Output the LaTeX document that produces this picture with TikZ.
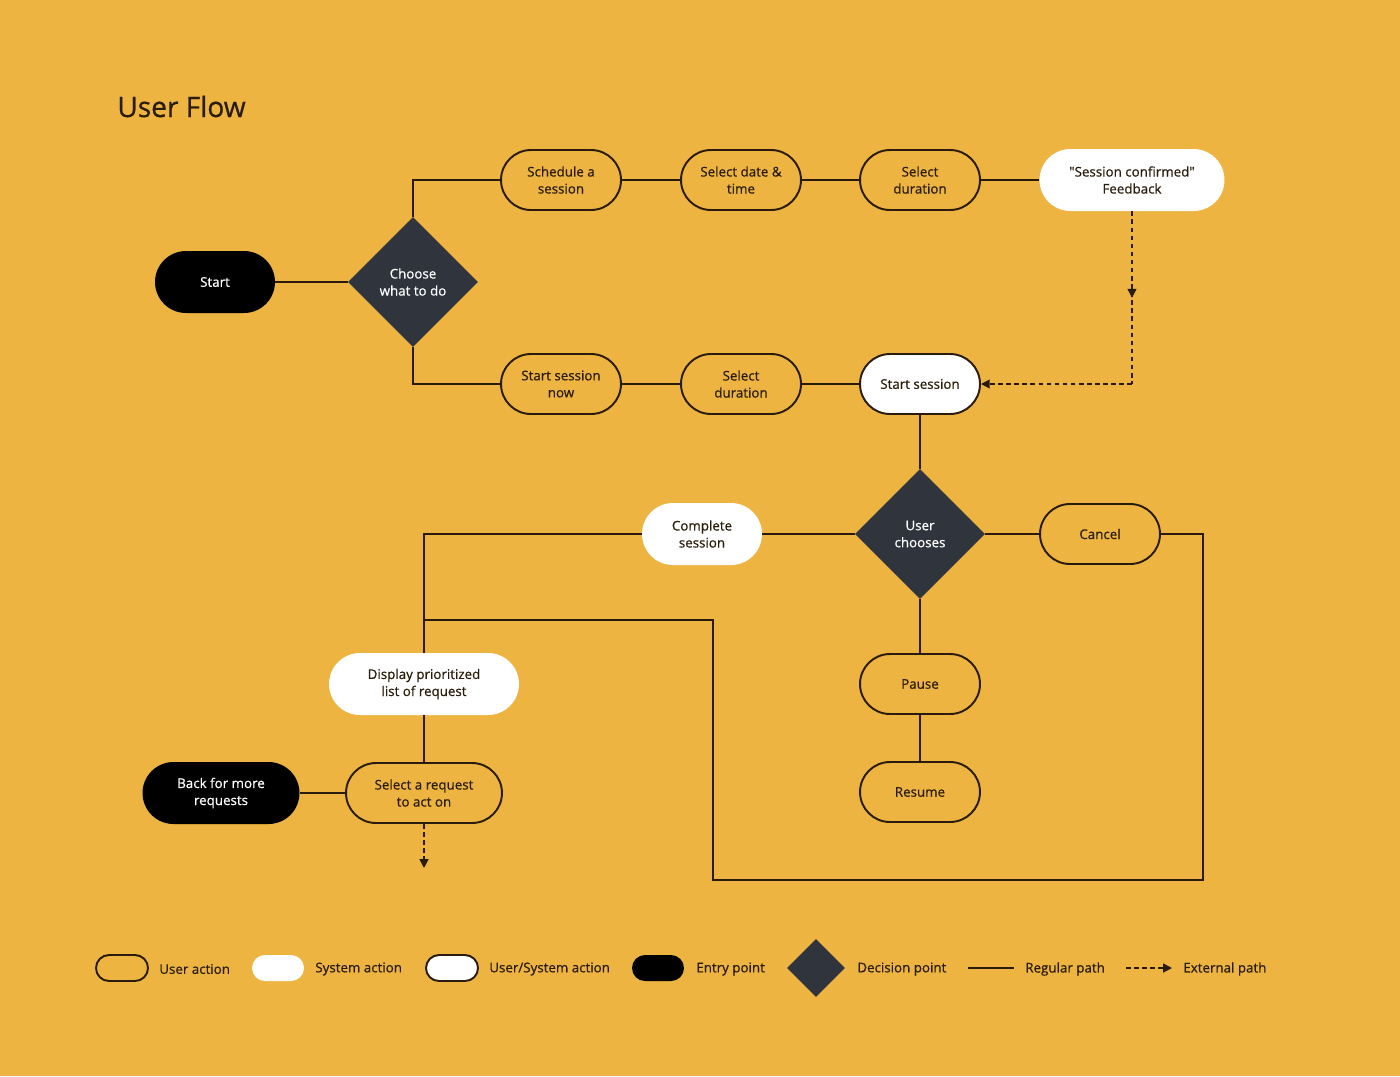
\documentclass[tikz,border=0pt]{standalone}
\usepackage{fontspec}
\setmainfont{Open Sans}[Ligatures=TeXOff, FakeBold=0.6]
\usetikzlibrary{arrows.meta,positioning,shapes.geometric,decorations.markings}
\definecolor{bg}{HTML}{EDB441}
\definecolor{ink}{HTML}{2A1C0C}
\definecolor{slate}{HTML}{2F343D}
\newcommand{\nodefont}{\fontsize{7.6}{9.7}\selectfont}

\begin{document}
\begin{tikzpicture}[x=0.02cm, y=-0.02cm,
  useract/.style={draw=ink, line width=1.1pt, rounded corners=0.6cm, minimum width=2.4cm, minimum height=1.2cm, inner sep=1pt, align=center, font=\nodefont, text=ink},
  sysact/.style={fill=white, rounded corners=0.62cm, minimum width=2.4cm, minimum height=1.24cm, inner sep=1pt, align=center, font=\nodefont, text=ink},
  bothact/.style={useract, fill=white},
  entry/.style={fill=black, text=white, rounded corners=0.62cm, minimum width=2.4cm, minimum height=1.24cm, inner sep=1pt, align=center, font=\nodefont},
  decision/.style={diamond, aspect=1, fill=slate, text=white, minimum width=2.6cm, minimum height=2.6cm, inner sep=0pt, align=center, font=\nodefont},
  legpill/.style={minimum width=1.04cm, minimum height=0.52cm, rounded corners=0.26cm, inner sep=0pt},
  legtext/.style={anchor=west, inner sep=0pt, font=\nodefont, text=ink},
  flow/.style={draw=ink, line width=1pt},
  ext/.style={draw=ink, line width=1pt, dash pattern=on 2.6pt off 2pt},
  mid arrow/.style={postaction={decorate}, decoration={markings, mark=at position 0.5 with {\arrow{Triangle[length=5pt, width=5pt]}}}},
]
\fill[bg] (0,0) rectangle (1400,1076);

\node[anchor=base west, inner sep=0pt, font=\fontsize{16}{19}\selectfont, text=ink] (title) at (117,117) {User Flow};

% first choice
\node[entry] (start) at (215,282) {Start};
\node[decision] (choose) at (413,282) {Choose\\what to do};

% scheduled branch
\node[useract] (sched) at (561,180) {Schedule a\\session};
\node[useract] (datetime) at (741,180) {Select date \&\\time};
\node[useract] (dur1) at (920,180) {Select\\duration};
\node[sysact, minimum width=3.7cm] (feedback) at (1132,180) {"Session confirmed"\\Feedback};

% immediate branch
\node[useract] (nowss) at (561,384) {Start session\\now};
\node[useract] (dur2) at (741,384) {Select\\duration};
\node[bothact] (startss) at (920,384) {Start session};
\coordinate (cfb) at (1132,384);

% session running
\node[decision] (choose2) at (920,534) {User\\chooses};
\node[sysact] (complete) at (702,534) {Complete\\session};
\node[useract] (cancel) at (1100,534) {Cancel};
\node[useract] (pause) at (920,684) {Pause};
\node[useract] (resume) at (920,792) {Resume};
\coordinate (cR) at (1203,880);
\coordinate (cL) at (713,880);
\coordinate (join) at (424,620);

% requests
\node[sysact, minimum width=3.8cm] (display) at (424,684) {Display prioritized\\list of request};
\node[useract, minimum width=3.12cm] (select) at (424,793) {Select a request\\to act on};
\node[entry, minimum width=3.14cm] (back) at (221,793) {Back for more\\requests};
\coordinate (selend) at (424,868);

\draw[flow] (start) -- (choose);
\draw[flow] (choose.north) |- (sched);
\draw[flow] (sched) -- (datetime);
\draw[flow] (datetime) -- (dur1);
\draw[flow] (dur1) -- (feedback);
\draw[flow] (choose.south) |- (nowss);
\draw[flow] (nowss) -- (dur2);
\draw[flow] (dur2) -- (startss);
\draw[ext, mid arrow] (feedback) -- (cfb);
\draw[ext, -{Triangle[length=5pt, width=5pt]}] (cfb) -- (startss.east);
\draw[flow] (startss) -- (choose2);
\draw[flow] (choose2) -- (complete);
\draw[flow] (complete.west) -| (display.north);
\draw[flow] (choose2) -- (cancel);
\draw[flow] (cancel.east) -| (cR) -- (cL) |- (join);
\draw[flow] (choose2) -- (pause);
\draw[flow] (pause) -- (resume);
\draw[flow] (display) -- (select);
\draw[flow] (back) -- (select);
\draw[ext, -{Triangle[length=5pt, width=5pt]}] (select) -- (selend);

% legend
\node[useract, legpill] (lguser) at (122,968) {};
\node[legtext] (tguser) at (159,969) {User action};
\node[sysact, legpill] (lgsys) at (278,968) {};
\node[legtext] (tgsys) at (315,969) {System action};
\node[bothact, legpill] (lgboth) at (452,968) {};
\node[legtext] (tgboth) at (489,969) {User/System action};
\node[entry, legpill] (lgentry) at (658,968) {};
\node[legtext] (tgentry) at (696,969) {Entry point};
\node[decision, minimum width=1.16cm, minimum height=1.16cm] (lgdec) at (816,968) {};
\node[legtext] (tgdec) at (857,969) {Decision point};
\coordinate (rp1) at (968,968);
\coordinate (rp2) at (1014,968);
\draw[flow] (rp1) -- (rp2);
\node[legtext] (tgreg) at (1025,969) {Regular path};
\coordinate (ep1) at (1126,968);
\coordinate (ep2) at (1172,968);
\draw[ext, -{Triangle[length=5pt, width=5pt]}] (ep1) -- (ep2);
\node[legtext] (tgext) at (1183,969) {External path};
\end{tikzpicture}
\end{document}
